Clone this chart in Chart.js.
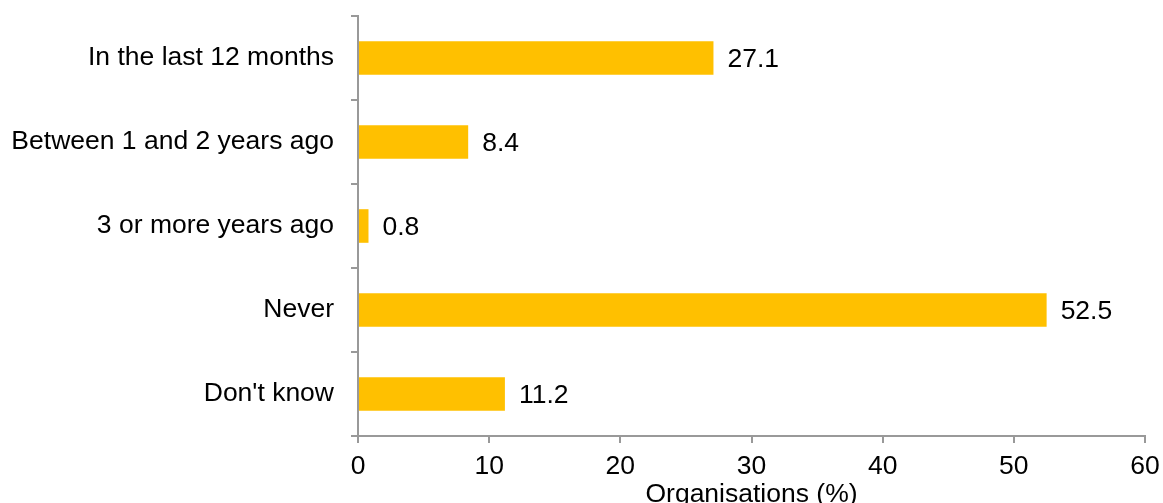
<!DOCTYPE html>
<html>
<head>
<meta charset="utf-8">
<script src="https://cdn.jsdelivr.net/npm/chart.js@4"></script>
<style>
  html, body { margin: 0; padding: 0; background: #fff; }
  #wrap { width: 1163px; height: 503px; position: relative; }
</style>
</head>
<body>
<div id="wrap"><canvas id="chart"></canvas></div>
<script>
// Categories and values (% of organisations)
const categories = ['In the last 12 months', 'Between 1 and 2 years ago', '3 or more years ago', 'Never', "Don't know"];
const values = [27.1, 8.4, 0.8, 52.5, 11.2];
const xTicks = [0, 10, 20, 30, 40, 50, 60];

const FONT = 'Liberation Sans, Arial, sans-serif';
const AXIS = '#999999';

// Value labels at the end of each bar
const barLabels = {
  id: 'barLabels',
  afterDatasetsDraw(chart) {
    const ctx = chart.ctx;
    const meta = chart.getDatasetMeta(0);
    ctx.save();
    ctx.font = '26.5px ' + FONT;
    ctx.fillStyle = '#000';
    ctx.textAlign = 'left';
    ctx.textBaseline = 'middle';
    meta.data.forEach((bar, i) => {
      ctx.fillText(values[i].toFixed(1), bar.x + 14, bar.y + 2);
    });
    ctx.restore();
  }
};

new Chart(document.getElementById('chart'), {
  type: 'bar',
  data: {
    labels: categories,
    datasets: [{
      data: values,
      backgroundColor: '#FFC000',
      borderWidth: 0,
      barPercentage: 0.4,
      categoryPercentage: 1.0
    }]
  },
  plugins: [barLabels],
  options: {
    indexAxis: 'y',
    responsive: true,
    maintainAspectRatio: false,
    animation: false,
    layout: { padding: { top: 16, right: 18, left: 0, bottom: 0 } },
    plugins: {
      legend: { display: false },
      tooltip: { enabled: false }
    },
    scales: {
      x: {
        min: 0,
        max: 60,
        afterBuildTicks: (axis) => { axis.ticks = xTicks.map(v => ({ value: v })); },
        afterFit: (axis) => {
          axis.height = 67;
          axis.paddingLeft = 0;
          axis.paddingRight = 0;
        },
        border: { color: AXIS, width: 2 },
        grid: { drawOnChartArea: false, color: AXIS, lineWidth: 2, tickLength: 7 },
        ticks: { color: '#000', font: { size: 26.5, family: FONT }, padding: 8, maxRotation: 0 },
        title: {
          display: true,
          text: 'Organisations (%)',
          color: '#000',
          font: { size: 26.5, family: FONT, lineHeight: 1 },
          padding: { top: 0, bottom: -5 }
        }
      },
      y: {
        afterFit: (axis) => {
          axis.width = 358;
          axis.paddingTop = 0;
          axis.paddingBottom = 0;
        },
        border: { color: AXIS, width: 2 },
        grid: { drawOnChartArea: false, color: AXIS, lineWidth: 2, tickLength: 7, offset: true },
        ticks: { color: '#000', font: { size: 26.5, family: FONT }, padding: 17 }
      }
    }
  }
});
</script>
</body>
</html>
